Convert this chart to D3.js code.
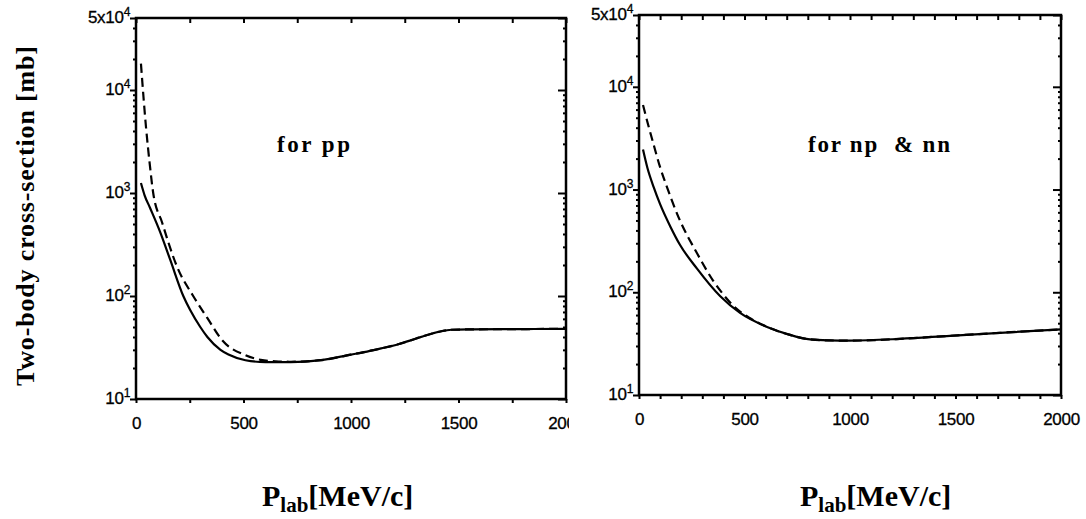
<!DOCTYPE html>
<html lang="en">
<head>
<meta charset="UTF-8">
<script src="https://d3js.org/d3.v7.min.js"></script>
<title>Two-body cross-section</title>
<style>
  body { margin: 0; background: #fff; }
  svg { display: block; }
  .tick text { font-family: "Liberation Sans", Arial, sans-serif; font-size: 17px; fill: #000; stroke: #000; stroke-width: 0.3px; letter-spacing: -0.3px; }
  .tick line { stroke: #000; stroke-width: 2; }
  .lbl { font-family: "Liberation Sans", Arial, sans-serif; fill: #000; stroke: #000; stroke-width: 0.3px; letter-spacing: -0.3px; }
  .serif { font-family: "Liberation Serif", "Times New Roman", serif; font-weight: bold; fill: #000; }
</style>
</head>
<body>
<div id="chart"></div>
<script>
// pp: momentum [MeV/c] and cross-section [mb]
var ppSolidP = [23, 40, 65, 112, 159, 220, 252, 299, 332, 393, 430, 509, 603, 720, 860, 1000, 1061, 1140, 1220, 1300, 1374, 1420, 1467, 1560, 1700, 1850, 2000]
var ppSolid  = [1250, 950, 720, 420, 225, 100, 73, 50, 40, 30, 27, 23.8, 22.8, 22.8, 23.8, 27, 28.5, 31, 34, 38.5, 43, 45.5, 47, 47.4, 47.6, 47.8, 48]
var ppDashP  = [23, 47, 65, 80, 121, 192, 266, 330, 402, 509, 580, 650, 720, 860, 1000, 1061, 1140, 1220, 1300, 1374, 1420, 1467, 1560, 1700, 1850, 2000]
var ppDash   = [18000, 4250, 1820, 1000, 520, 190, 100, 62, 37, 26.6, 24, 23.2, 23, 23.8, 27, 28.5, 31, 34, 38.5, 43, 45.5, 47, 47.4, 47.6, 47.8, 48]

// np & nn
var npSolidP = [19, 40, 70, 100, 150, 194, 275, 384, 479, 607, 716, 801, 900, 1000, 1237, 1474, 1711, 2000]
var npSolid  = [2450, 1620, 1050, 720, 430, 290, 170, 92, 63, 46, 38.5, 35, 34, 33.8, 35.2, 37.7, 40.3, 43.5]
var npDashP  = [19, 43, 66, 100, 133, 194, 275, 351, 393, 431, 470, 520, 607, 716, 801, 900, 1000, 1237, 1474, 1711, 2000]
var npDash   = [6650, 4300, 2900, 1650, 1050, 500, 240, 130, 99, 80, 67, 57, 46, 38.5, 35, 34, 33.8, 35.2, 37.7, 40.3, 43.5]

// ticks
var xLabels = [0, 500, 1000, 1500, 2000]
var yMajor  = [10, 100, 1000, 10000, 50000]
var yBase   = ['10', '10', '10', '10', '5x10']
var yExp    = ['1', '2', '3', '4', '4']

var svg = d3.select('#chart').append('svg')
  .attr('width', 1086)
  .attr('height', 519)

svg.append('rect').attr('width', 1086).attr('height', 519).attr('fill', '#fff')

var yMinor = []
;[10, 100, 1000, 10000].forEach(function (d) {
  for (var k = 2; k <= 9; k++) if (d * k < 50000) yMinor.push(d * k)
})

function panel(c) {
  var x = d3.scaleLinear().domain([0, 2000]).range([c.left, c.right])
  var y = d3.scaleLog().domain([10, 50000]).range([c.bottom, c.top])
  var g = svg.append('g')

  if (c.cover) {
    g.append('rect').attr('x', c.cover).attr('y', 0).attr('width', 1086 - c.cover).attr('height', 519).attr('fill', '#fff')
  }

  var xt = d3.range(0, 2001, c.step)

  // bottom axis: ticks downward, labels on the 500s
  g.append('g')
    .attr('transform', 'translate(0,' + c.bottom + ')')
    .call(d3.axisBottom(x).tickValues(xt).tickSize(4).tickPadding(14)
      .tickFormat(function (d) { return xLabels.indexOf(d) >= 0 ? d : '' }))
    .call(function (s) { s.select('.domain').remove() })

  // top axis: ticks downward (inside)
  g.append('g')
    .attr('transform', 'translate(0,' + c.top + ')')
    .call(d3.axisBottom(x).tickValues(xt).tickSize(5).tickFormat(''))
    .call(function (s) { s.select('.domain').remove() })

  // left and right axes, ticks pointing left
  ;[c.left, c.right].forEach(function (px) {
    g.append('g')
      .attr('transform', 'translate(' + px + ',0)')
      .call(d3.axisLeft(y).tickValues(yMajor).tickSize(c.right === px ? 8 : 6).tickFormat(''))
      .call(function (s) { s.select('.domain').remove() })
    g.append('g')
      .attr('transform', 'translate(' + px + ',0)')
      .call(d3.axisLeft(y).tickValues(yMinor).tickSize(3).tickFormat(''))
      .call(function (s) { s.select('.domain').remove() })
  })

  var lab = g.selectAll('.ylab')
    .data(yMajor)
    .enter()
    .append('text')
    .attr('class', 'lbl')
    .attr('text-anchor', 'end')
    .attr('x', c.left - 6)
    .attr('y', function (d) { return y(d) + 5 })
  lab.append('tspan').style('font-size', '17px').text(function (d, i) { return yBase[i] })
  lab.append('tspan').style('font-size', '12px').attr('dy', -7).text(function (d, i) { return yExp[i] })

  g.append('rect')
    .attr('x', c.left).attr('y', c.top)
    .attr('width', c.right - c.left).attr('height', c.bottom - c.top)
    .attr('fill', 'none').attr('stroke', '#000').attr('stroke-width', 2.5)

  var line = d3.line()
    .x(function (d) { return x(d[0]) })
    .y(function (d) { return y(d[1]) })
    .curve(d3.curveMonotoneX)

  g.append('path')
    .datum(d3.zip(c.dashP, c.dash))
    .attr('d', line)
    .attr('fill', 'none').attr('stroke', '#000').attr('stroke-width', 2.2)
    .attr('stroke-dasharray', '9,5')

  g.append('path')
    .datum(d3.zip(c.solidP, c.solid))
    .attr('d', line)
    .attr('fill', 'none').attr('stroke', '#000').attr('stroke-width', 2.2)

  g.append('text')
    .attr('class', 'serif')
    .attr('x', c.tx).attr('y', 152)
    .style('font-size', '23px')
    .style('white-space', 'pre')
    .attr('textLength', c.tw)
    .attr('lengthAdjust', 'spacing')
    .text(c.title)

  var xl = g.append('text')
    .attr('class', 'serif')
    .attr('x', c.lx).attr('y', 506)
  xl.append('tspan').style('font-size', '30px').text('P')
  xl.append('tspan').style('font-size', '21px').attr('dy', 6).text('lab')
  xl.append('tspan').style('font-size', '30px').attr('dy', -6).text('[MeV/c]')
}

panel({ left: 136, right: 566, top: 18, bottom: 399, step: 250,
  solidP: ppSolidP, solid: ppSolid, dashP: ppDashP, dash: ppDash,
  title: 'for pp', tx: 277, tw: 73, lx: 262 })

panel({ left: 639, right: 1061, top: 15, bottom: 395, step: 100, cover: 569,
  solidP: npSolidP, solid: npSolid, dashP: npDashP, dash: npDash,
  title: 'for np  & nn', tx: 808, tw: 142, lx: 800 })

svg.append('text')
  .attr('class', 'serif')
  .attr('transform', 'translate(34,216) rotate(-90)')
  .attr('text-anchor', 'middle')
  .style('font-size', '26px')
  .attr('textLength', 340)
  .attr('lengthAdjust', 'spacing')
  .text('Two-body cross-section [mb]')
</script>
</body>
</html>
